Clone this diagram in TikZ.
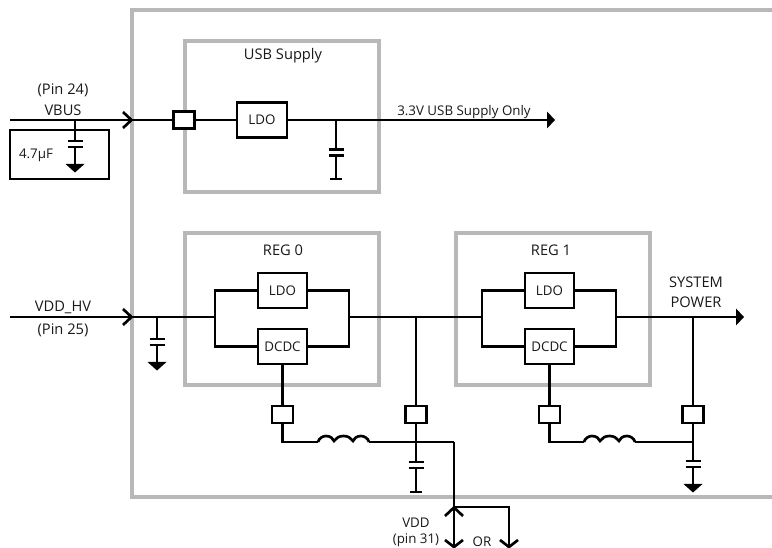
\documentclass[tikz,border=0pt]{standalone}
\usepackage{fontspec}
\setmainfont{Open Sans}
\definecolor{framegray}{gray}{0.72}
\tikzset{
  x=0.75pt,y=-0.75pt,
  wire/.style={line width=2pt,line cap=butt,line join=miter},
  frame/.style={draw=framegray,line width=2.3pt},
  partbox/.style={draw=black,line width=2pt,fill=white,inner sep=0pt,anchor=center},
  lab/.style={inner sep=0pt,font=\fontsize{11}{13}\selectfont,text=black!90},
  smalllab/.style={inner sep=0pt,font=\fontsize{10}{11}\selectfont,text=black!90},
  chevron/.style={wire,line join=miter},
  solidtip/.style={fill=black,draw=none},
}
\newcommand{\capplates}[2]{%
  \draw[wire,line width=1.8pt] (#1-7.5,#2) -- (#1+7.5,#2);
  \draw[wire,line width=1.8pt] (#1-7.5,#2+6) -- (#1+7.5,#2+6);
}
\newcommand{\groundarrow}[2]{%
  \fill[solidtip] (#1-9.5,#2) -- (#1+9.5,#2) -- (#1,#2+8.5) -- cycle;
}
\newcommand{\coil}[2]{%
  \draw[wire] (#1,#2)
    .. controls (#1+1,#2-4) and (#1+5,#2-6) .. (#1+8,#2-6)
    .. controls (#1+13,#2-6) and (#1+15,#2-3) .. (#1+16,#2-1)
    .. controls (#1+18,#2-4) and (#1+21,#2-6) .. (#1+25.5,#2-6)
    .. controls (#1+30,#2-6) and (#1+33,#2-4) .. (#1+35,#2-1)
    .. controls (#1+36,#2-3) and (#1+38,#2-6) .. (#1+43,#2-6)
    .. controls (#1+46,#2-6) and (#1+50,#2-4) .. (#1+51,#2);
}
\begin{document}
\begin{tikzpicture}
\useasboundingbox (0,0) rectangle (772,548);
\clip (0,0) rectangle (772,548);
\fill[white] (0,0) rectangle (772,548);

% frames
\draw[frame] (772,10) -- (132,10) -- (132,497) -- (772,497);
\draw[frame] (185,41) rectangle (379,192);
\draw[frame] (185,233) rectangle (379,385);
\draw[frame] (456,233) rectangle (650,385);

% junctions and terminals
\coordinate (vbusin) at (10,120);
\coordinate (capvbus) at (75,120);
\coordinate (capvbusb) at (75,164);
\coordinate (capldo) at (336,120);
\coordinate (capldob) at (336,179);
\coordinate (usbout) at (547,120);
\coordinate (hvin) at (10,317);
\coordinate (caphv) at (157,317);
\coordinate (caphvb) at (157,362);
\coordinate (rzl) at (215,317);
\coordinate (rzr) at (349,317);
\coordinate (rol) at (482,317);
\coordinate (ror) at (616,317);
\coordinate (mid) at (416,317);
\coordinate (sys) at (693,317);
\coordinate (sysout) at (737,317);
\coordinate (ltop) at (215,290.5);
\coordinate (lbot) at (215,346.5);
\coordinate (rtop) at (349,290.5);
\coordinate (rbot) at (349,346.5);
\coordinate (ltopb) at (482,290.5);
\coordinate (lbotb) at (482,346.5);
\coordinate (rtopb) at (616,290.5);
\coordinate (rbotb) at (616,346.5);
\coordinate (corna) at (282.5,442);
\coordinate (cola) at (318,442);
\coordinate (colb) at (369,442);
\coordinate (nodemid) at (416,442);
\coordinate (cornvdd) at (454,442);
\coordinate (capmidb) at (416,492);
\coordinate (split) at (454,507);
\coordinate (vddend) at (454,547);
\coordinate (corner) at (509,507);
\coordinate (orend) at (509,547);
\coordinate (cornb) at (549.5,442);
\coordinate (colc) at (584,442);
\coordinate (cold) at (635,442);
\coordinate (nodesys) at (693,442);
\coordinate (capsysb) at (693,484);

% boxes
\node[partbox,minimum width=37.5pt,minimum height=26.25pt] (ldousb) at (262,120) {};
\node[partbox,minimum width=15.75pt,minimum height=12.75pt] (padusb) at (184,120) {};
\node[partbox,minimum width=36.75pt,minimum height=26.25pt] (ldoa) at (282.5,290.5) {};
\node[partbox,minimum width=36.75pt,minimum height=26.25pt] (dcdca) at (282.5,346.5) {};
\node[partbox,minimum width=36.75pt,minimum height=26.25pt] (ldob) at (549.5,290.5) {};
\node[partbox,minimum width=36.75pt,minimum height=26.25pt] (dcdcb) at (549.5,346.5) {};
\node[partbox,minimum width=15.75pt,minimum height=12.75pt] (pada) at (282.5,414.5) {};
\node[partbox,minimum width=15.75pt,minimum height=12.75pt] (padm) at (416,414.5) {};
\node[partbox,minimum width=15.75pt,minimum height=12.75pt] (padb) at (549.5,414.5) {};
\node[partbox,minimum width=15.75pt,minimum height=12.75pt] (pads) at (693,414.5) {};

% wires
\draw[wire] (vbusin) -- (padusb.west) (padusb.east) -- (ldousb.west) (ldousb.east) -- (usbout);
\draw[wire] (capvbus) -- (capvbusb);
\draw[wire] (capldo) -- (capldob);
\draw[wire] (hvin) -- (rzl);
\draw[wire] (caphv) -- (caphvb);
\draw[wire] (ldoa.west) -- (ltop) -- (lbot) -- (dcdca.west);
\draw[wire] (ldoa.east) -- (rtop) -- (rbot) -- (dcdca.east);
\draw[wire] (rzr) -- (rol);
\draw[wire] (ldob.west) -- (ltopb) -- (lbotb) -- (dcdcb.west);
\draw[wire] (ldob.east) -- (rtopb) -- (rbotb) -- (dcdcb.east);
\draw[wire] (ror) -- (sysout);
\draw[wire] (mid) -- (padm.north) (padm.south) -- (capmidb);
\draw[wire] (sys) -- (pads.north) (pads.south) -- (capsysb);
\draw[wire] (cornvdd) -- (vddend);
\draw[wire] (split) -- (corner) -- (orend);
\draw[wire] (dcdca.south) -- (pada.north);
\draw[wire] (pada.south) -- (corna) -- (cola);
\draw[wire] (colb) -- (nodemid) -- (cornvdd);
\draw[wire] (dcdcb.south) -- (padb.north);
\draw[wire] (padb.south) -- (cornb) -- (colc);
\draw[wire] (cold) -- (nodesys);
\coil{318}{442}
\coil{584}{442}

% 4.7uF box
\draw[wire] (10,130) rectangle (109,179);

% capacitors and grounds
\foreach \cx/\cy in {75/141,336/149.5,157/339,416/462,693/461}{%
  \fill[white] (\cx-6,\cy) rectangle (\cx+6,\cy+6);
  \capplates{\cx}{\cy}
}
\groundarrow{75}{164}
\groundarrow{157}{362}
\groundarrow{693}{484}
\draw[wire,line width=1.8pt] (330,179) -- (342,179);
\draw[wire,line width=1.8pt] (410,492) -- (422,492);

% pin chevrons
\draw[chevron] (123,112) -- (131.5,120) -- (123,128);
\draw[chevron] (123,309) -- (131.5,317) -- (123,325);
\fill[solidtip] (736,308.5) -- (744,317) -- (736,325.5) -- cycle;
\fill[solidtip] (547,111.5) -- (555,120) -- (547,128.5) -- cycle;
\draw[chevron] (445,516) -- (454,507.5) -- (463,516);
\draw[chevron] (445,540) -- (454,547) -- (463,540);
\draw[chevron] (500,540) -- (509,547) -- (518,540);

% labels
\node[lab] (t1) at (63,90) {(Pin 24)};
\node[lab] (t2) at (63,110) {VBUS};
\node[smalllab] (t3) at (36,155) {4.7µF};
\node[lab] (t4) at (283,56) {USB Supply};
\node[smalllab] (t5) at (262,120) {LDO};
\node[smalllab] (t6) at (464,112) {3.3V USB Supply Only};
\node[lab] (t7) at (63,307) {VDD\_HV};
\node[lab] (t8) at (63,330) {(Pin 25)};
\node[lab] (t9) at (283,250) {REG 0};
\node[lab] (t10) at (551,250) {REG 1};
\node[smalllab] (t11) at (282.5,291) {LDO};
\node[smalllab] (t12) at (282.5,347) {DCDC};
\node[smalllab] (t13) at (549.5,291) {LDO};
\node[smalllab] (t14) at (549.5,347) {DCDC};
\node[lab] (t15) at (696,282) {SYSTEM};
\node[lab] (t16) at (696,302) {POWER};
\node[smalllab] (t17) at (416,523) {VDD};
\node[smalllab] (t18) at (416,540) {(pin 31)};
\node[smalllab] (t19) at (482,542) {OR};
\end{tikzpicture}
\end{document}
